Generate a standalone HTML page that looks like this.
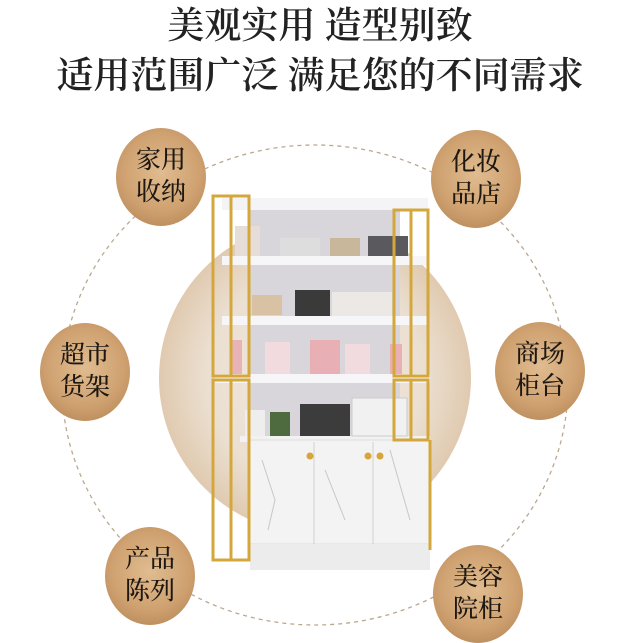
<!DOCTYPE html>
<html><head><meta charset="utf-8"><style>
body{margin:0;width:640px;height:640px;background:#fff;overflow:hidden;position:relative;font-family:"Liberation Serif","Noto Serif CJK SC",serif}
.t{position:absolute;left:0;width:640px;text-align:center;color:#222;font-size:37px;line-height:42px;font-weight:600}
.c{position:absolute;width:90px;height:98px;border-radius:50%;background:radial-gradient(circle at 50% 45%,#e0bc90 0%,#cfa170 55%,#ad7f50 100%);display:flex;align-items:center;justify-content:center;text-align:center;color:#1e1812;font-size:25px;line-height:32px;font-weight:500}
</style></head><body>
<div class="t" style="top:6px">美观实用 造型别致</div>
<div class="t" style="top:56px">适用范围广泛 满足您的不同需求</div>
<svg width="640" height="640" style="position:absolute;left:0;top:0">
<defs><radialGradient id="g" cx="50%" cy="50%" r="50%"><stop offset="0" stop-color="#f0eae4"/><stop offset="0.7" stop-color="#ebdfd0"/><stop offset="1" stop-color="#e0cab0"/></radialGradient></defs>
<ellipse cx="315" cy="385" rx="253" ry="240" fill="none" stroke="#b9a890" stroke-width="1.3" stroke-dasharray="4,4"/>
<circle cx="315" cy="378" r="156" fill="url(#g)"/>
<rect x="250" y="210" width="150" height="230" fill="#d8d6da"/>
<rect x="222" y="198" width="206" height="12" fill="#f4f4f6"/>
<rect x="222" y="256" width="206" height="9" fill="#f6f6f8"/>
<rect x="222" y="316" width="206" height="9" fill="#f6f6f8"/>
<rect x="215" y="374" width="215" height="9" fill="#f6f6f8"/>
<rect x="240" y="436" width="190" height="6" fill="#f2f2f2"/>
<rect x="235" y="226" width="25" height="30" fill="#e6dcd8"/><rect x="280" y="238" width="40" height="18" fill="#ddd"/><rect x="330" y="238" width="30" height="18" fill="#c9b79b"/><rect x="368" y="236" width="40" height="20" fill="#5a5a5e"/>
<rect x="252" y="295" width="30" height="20" fill="#d9c2a4"/><rect x="295" y="290" width="35" height="26" fill="#3a3a3a"/><rect x="332" y="292" width="60" height="24" fill="#ece8e6"/>
<rect x="232" y="340" width="10" height="34" fill="#e7b3b7"/><rect x="265" y="342" width="25" height="32" fill="#f1dbde"/><rect x="310" y="340" width="30" height="34" fill="#e8afb5"/><rect x="345" y="344" width="25" height="30" fill="#f1dbde"/><rect x="390" y="344" width="12" height="30" fill="#e8afb5"/>
<rect x="245" y="410" width="20" height="26" fill="#eee"/><rect x="270" y="412" width="20" height="24" fill="#4d6b3e"/><rect x="300" y="404" width="50" height="32" fill="#3c3c3c"/><rect x="352" y="398" width="55" height="38" fill="#f1f1f1" stroke="#ccc"/>
<rect x="250" y="440" width="180" height="104" fill="#f3f3f3" stroke="#ddd"/>
<line x1="314" y1="442" x2="314" y2="544" stroke="#d0d0d0"/><line x1="373" y1="442" x2="373" y2="544" stroke="#d0d0d0"/>
<path d="M262 460 L275 500 L268 530 M325 470 L345 520 M390 450 L410 520" stroke="#c7c7c7" fill="none"/>
<rect x="250" y="544" width="180" height="26" fill="#ececec"/>
<circle cx="310" cy="456" r="3.5" fill="#d6a63a"/><circle cx="368" cy="456" r="3.5" fill="#d6a63a"/><circle cx="380" cy="456" r="3.5" fill="#d6a63a"/>
<g fill="none" stroke="#d4a73c" stroke-width="3">
<rect x="213" y="196" width="36" height="180"/><line x1="231" y1="196" x2="231" y2="376"/>
<rect x="213" y="380" width="36" height="180"/><line x1="231" y1="380" x2="231" y2="560"/>
<rect x="394" y="210" width="34" height="166"/><line x1="411" y1="210" x2="411" y2="376"/>
<rect x="394" y="380" width="34" height="60"/><line x1="411" y1="380" x2="411" y2="440"/>
<line x1="430" y1="440" x2="430" y2="550"/>
</g>
</svg>
<div class="c" style="left:116px;top:128px">家用<br>收纳</div>
<div class="c" style="left:431px;top:130px">化妆<br>品店</div>
<div class="c" style="left:40px;top:323px">超市<br>货架</div>
<div class="c" style="left:495px;top:322px">商场<br>柜台</div>
<div class="c" style="left:105px;top:527px">产品<br>陈列</div>
<div class="c" style="left:433px;top:545px">美容<br>院柜</div>
</body></html>
